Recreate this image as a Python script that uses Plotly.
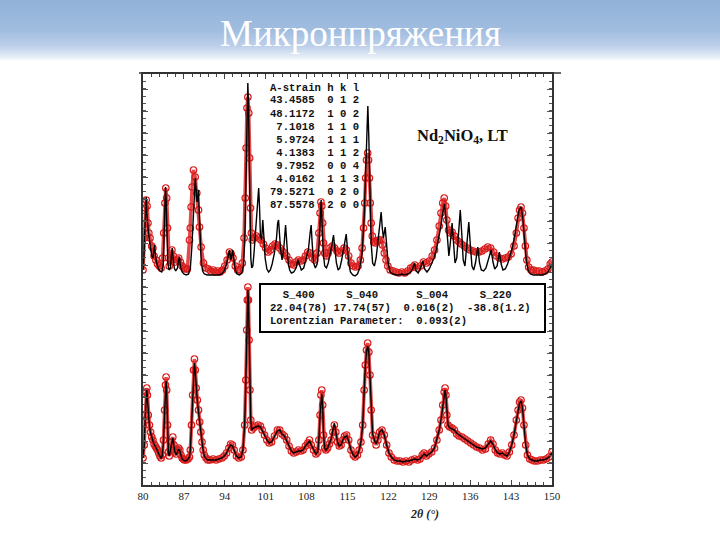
import plotly.graph_objects as go

# ---------------- data (2θ in degrees, intensity in arbitrary units) ----------------
obs_top = [
    (80.0, 8), (80.2, 40), (80.4, 70), (80.55, 78), (80.7, 72), (80.85, 55), (81.0, 45), (81.2, 40),
    (81.5, 32), (81.7, 30), (81.9, 22), (82.2, 18), (82.5, 14), (82.8, 12), (83.1, 10), (83.35, 20),
    (83.55, 45), (83.75, 75), (83.9, 90), (84.05, 80), (84.2, 50), (84.35, 20), (84.5, 12), (84.7, 18),
    (84.95, 28), (85.2, 22), (85.5, 16), (85.8, 18), (86.1, 20), (86.4, 16), (86.7, 12), (87.0, 10),
    (87.3, 9), (87.6, 9), (87.96, 38), (88.1, 50), (88.24, 71), (88.41, 91), (88.64, 108), (88.93, 101),
    (89.21, 85), (89.5, 68), (89.67, 51), (89.95, 31), (90.35, 15), (90.81, 10), (91.2, 9), (91.6, 7),
    (92.0, 8), (92.4, 6), (92.8, 7), (93.2, 6), (93.6, 8), (94.0, 12), (94.4, 18), (94.8, 26),
    (95.1, 24), (95.4, 20), (95.8, 12), (96.2, 8), (96.6, 8), (97.0, 15), (97.3, 40), (97.5, 80),
    (97.65, 130), (97.8, 170), (97.95, 181), (98.1, 165), (98.25, 120), (98.4, 70), (98.55, 45),
    (98.7, 38), (99.0, 40), (99.4, 42), (99.8, 40), (100.2, 38), (100.6, 34), (101.0, 30), (101.4, 26),
    (101.8, 28), (102.2, 32), (102.6, 34), (103.0, 33), (103.4, 30), (103.8, 27), (104.2, 25),
    (104.6, 22), (105.0, 18), (105.4, 14), (105.8, 13), (106.2, 16), (106.6, 18), (107.0, 17),
    (107.4, 18), (107.8, 22), (108.2, 26), (108.6, 25), (109.0, 20), (109.4, 18), (109.8, 25),
    (110.1, 45), (110.3, 65), (110.45, 76), (110.6, 72), (110.75, 55), (110.9, 35), (111.1, 25),
    (111.4, 22), (111.7, 25), (112.0, 30), (112.4, 32), (112.8, 30), (113.2, 27), (113.6, 25),
    (114.0, 27), (114.4, 30), (114.8, 28), (115.2, 22), (115.6, 15), (116.0, 12), (116.4, 11),
    (116.8, 12), (117.2, 18), (117.5, 30), (117.75, 50), (117.95, 75), (118.1, 100), (118.25, 118),
    (118.45, 125), (118.6, 118), (118.75, 100), (118.9, 75), (119.05, 55), (119.25, 42), (119.5, 36),
    (119.8, 35), (120.1, 37), (120.4, 38), (120.7, 38), (121.0, 33), (121.3, 25), (121.6, 18),
    (121.9, 12), (122.3, 8), (122.8, 7), (123.3, 6), (123.8, 5), (124.3, 6), (124.8, 5), (125.3, 7),
    (125.8, 10), (126.2, 11), (126.5, 13), (127.0, 10), (127.5, 12), (128.0, 16), (128.5, 15),
    (129.0, 17), (129.5, 22), (129.9, 28), (130.3, 38), (130.7, 52), (131.0, 65), (131.3, 75),
    (131.55, 80), (131.8, 72), (132.0, 58), (132.3, 48), (132.6, 45), (132.9, 46), (133.3, 42),
    (133.7, 38), (134.1, 36), (134.5, 34), (135.0, 32), (135.5, 30), (136.0, 28), (136.5, 27),
    (137.0, 26), (137.5, 26), (138.0, 27), (138.5, 29), (139.0, 31), (139.5, 30), (140.0, 26),
    (140.5, 22), (141.0, 20), (141.5, 19), (142.0, 20), (142.5, 21), (143.0, 24), (143.5, 32),
    (143.9, 45), (144.2, 60), (144.45, 68), (144.7, 71), (144.95, 65), (145.2, 50), (145.45, 32),
    (145.7, 18), (146.0, 11), (146.4, 8), (146.8, 8), (147.3, 7), (147.8, 7), (148.3, 6), (148.8, 7),
    (149.3, 9), (149.7, 14), (150.0, 16),
]

calc_top = [
    (80.0, 8), (80.15, 20), (80.3, 46), (80.45, 70), (80.55, 81), (80.65, 65), (80.8, 48), (80.95, 44),
    (81.1, 38), (81.3, 28), (81.5, 22), (81.7, 20), (81.85, 28), (81.97, 33), (82.1, 24), (82.3, 16),
    (82.6, 10), (82.9, 7), (83.2, 6), (83.45, 12), (83.6, 40), (83.75, 78), (83.85, 91), (83.95, 80),
    (84.1, 40), (84.25, 15), (84.45, 8), (84.7, 10), (84.85, 22), (85.0, 30), (85.15, 20), (85.35, 10),
    (85.6, 7), (85.9, 10), (86.1, 18), (86.25, 21), (86.4, 12), (86.7, 6), (87.0, 4), (87.4, 3),
    (87.8, 4), (88.1, 10), (88.35, 30), (88.6, 65), (88.8, 90), (88.95, 100), (89.1, 88), (89.25, 76),
    (89.4, 80), (89.5, 88), (89.6, 70), (89.75, 40), (89.95, 18), (90.2, 7), (90.5, 4), (91.0, 3),
    (91.5, 3), (92.0, 3), (92.5, 3), (93.0, 3), (93.5, 4), (93.9, 7), (94.3, 14), (94.55, 22),
    (94.8, 28), (95.05, 18), (95.2, 22), (95.37, 28), (95.55, 18), (95.8, 8), (96.1, 4), (96.5, 3),
    (96.9, 5), (97.2, 12), (97.45, 45), (97.65, 120), (97.8, 175), (97.94, 195), (98.05, 175),
    (98.15, 120), (98.3, 50), (98.45, 20), (98.6, 10), (98.8, 12), (99.0, 25), (99.3, 50), (99.55, 75),
    (99.8, 90), (99.95, 70), (100.1, 42), (100.3, 38), (100.5, 58), (100.7, 40), (100.9, 20),
    (101.2, 9), (101.5, 6), (101.8, 8), (102.1, 14), (102.5, 25), (102.85, 40), (103.05, 55),
    (103.2, 58), (103.35, 45), (103.55, 28), (103.8, 18), (104.1, 30), (104.4, 53), (104.6, 35),
    (104.85, 15), (105.1, 8), (105.4, 5), (105.8, 6), (106.2, 10), (106.5, 18), (106.8, 12),
    (107.1, 8), (107.5, 10), (107.9, 18), (108.3, 28), (108.6, 45), (108.78, 53), (108.95, 35),
    (109.2, 15), (109.5, 10), (109.8, 14), (110.1, 30), (110.3, 60), (110.49, 78), (110.65, 55),
    (110.85, 25), (111.1, 12), (111.4, 10), (111.7, 15), (112.0, 22), (112.3, 32), (112.6, 43),
    (112.85, 30), (113.1, 15), (113.4, 8), (113.7, 10), (114.0, 18), (114.3, 28), (114.55, 38),
    (114.78, 44), (114.95, 32), (115.2, 15), (115.5, 6), (115.9, 3), (116.3, 2), (116.7, 4),
    (117.1, 10), (117.5, 25), (117.85, 60), (118.1, 110), (118.3, 150), (118.48, 172), (118.65, 140),
    (118.85, 80), (119.05, 35), (119.3, 15), (119.6, 12), (119.9, 20), (120.2, 35), (120.5, 55),
    (120.76, 66), (120.95, 50), (121.15, 40), (121.45, 51), (121.7, 35), (121.95, 15), (122.3, 6),
    (122.8, 4), (123.3, 3), (123.8, 3), (124.3, 4), (124.8, 3), (125.3, 4), (125.8, 6), (126.2, 10),
    (126.46, 15), (126.75, 7), (127.1, 5), (127.5, 10), (127.88, 17), (128.2, 9), (128.6, 6),
    (129.0, 9), (129.4, 14), (129.8, 20), (130.2, 28), (130.6, 40), (131.0, 52), (131.3, 65),
    (131.6, 74), (131.85, 60), (132.1, 35), (132.35, 22), (132.6, 35), (132.9, 55), (133.15, 35),
    (133.4, 15), (133.7, 20), (134.0, 45), (134.3, 68), (134.55, 45), (134.8, 18), (135.1, 12),
    (135.4, 30), (135.76, 56), (136.0, 35), (136.3, 12), (136.6, 8), (136.9, 15), (137.3, 31),
    (137.6, 15), (137.9, 8), (138.3, 7), (138.7, 10), (139.1, 18), (139.58, 28), (139.9, 16),
    (140.2, 9), (140.6, 12), (141.0, 26), (141.3, 14), (141.6, 8), (142.0, 9), (142.4, 14),
    (142.8, 22), (143.2, 30), (143.6, 42), (144.0, 58), (144.35, 68), (144.71, 71), (145.0, 60),
    (145.3, 38), (145.6, 18), (145.9, 8), (146.3, 4), (146.8, 3), (147.3, 3), (147.8, 3), (148.3, 3),
    (148.8, 4), (149.3, 6), (149.7, 10), (150.0, 14),
]

obs_bot = [
    (80.0, 12), (80.2, 25), (80.4, 55), (80.55, 78), (80.65, 82), (80.75, 75), (80.9, 55), (81.1, 45),
    (81.3, 38), (81.5, 33), (81.7, 30), (81.9, 26), (82.1, 24), (82.3, 22), (82.5, 20), (82.7, 17),
    (82.9, 14), (83.1, 12), (83.3, 15), (83.5, 30), (83.7, 60), (83.85, 85), (83.95, 93), (84.05, 80),
    (84.2, 45), (84.35, 18), (84.5, 14), (84.7, 20), (84.9, 28), (85.1, 33), (85.3, 25), (85.5, 18),
    (85.7, 16), (85.9, 20), (86.1, 22), (86.3, 20), (86.5, 15), (86.7, 12), (86.9, 11), (87.1, 10),
    (87.4, 10), (87.7, 11), (87.95, 13), (88.1, 20), (88.3, 45), (88.5, 75), (88.65, 100), (88.8, 111),
    (88.95, 100), (89.1, 82), (89.3, 70), (89.5, 60), (89.7, 48), (89.9, 38), (90.1, 28), (90.3, 20),
    (90.5, 15), (90.8, 12), (91.1, 10), (91.5, 10), (92.0, 11), (92.5, 10), (93.0, 11), (93.5, 12),
    (93.9, 14), (94.3, 17), (94.7, 22), (95.0, 26), (95.3, 25), (95.6, 20), (96.0, 14), (96.4, 12),
    (96.8, 13), (97.1, 20), (97.4, 45), (97.6, 90), (97.75, 140), (97.85, 170), (97.95, 183),
    (98.05, 170), (98.15, 130), (98.3, 80), (98.45, 50), (98.6, 40), (98.9, 42), (99.3, 44),
    (99.7, 45), (100.1, 44), (100.4, 40), (100.8, 35), (101.2, 30), (101.6, 27), (102.0, 28),
    (102.5, 34), (103.0, 40), (103.4, 40), (103.8, 36), (104.2, 34), (104.6, 30), (105.0, 24),
    (105.4, 19), (105.8, 17), (106.2, 18), (106.6, 20), (107.0, 19), (107.4, 20), (107.8, 24),
    (108.2, 27), (108.5, 30), (108.8, 25), (109.2, 20), (109.6, 16), (109.9, 18), (110.1, 30),
    (110.3, 55), (110.45, 75), (110.6, 80), (110.75, 65), (110.9, 35), (111.1, 22), (111.3, 20),
    (111.6, 22), (111.9, 26), (112.2, 30), (112.5, 38), (112.75, 45), (113.0, 38), (113.3, 28),
    (113.6, 24), (113.9, 25), (114.2, 30), (114.5, 34), (114.85, 35), (115.2, 30), (115.6, 20),
    (116.0, 15), (116.3, 13), (116.7, 15), (117.0, 20), (117.3, 28), (117.6, 45), (117.85, 80),
    (118.05, 105), (118.25, 120), (118.45, 127), (118.65, 118), (118.85, 95), (119.05, 60),
    (119.3, 35), (119.6, 30), (119.9, 25), (120.2, 30), (120.5, 38), (120.9, 40), (121.3, 35),
    (121.7, 25), (122.1, 17), (122.5, 13), (123.0, 10), (123.5, 9), (124.0, 9), (124.5, 8),
    (125.0, 9), (125.5, 8), (126.0, 10), (126.5, 11), (127.0, 10), (127.4, 11), (127.8, 15),
    (128.1, 17), (128.5, 14), (128.9, 16), (129.4, 18), (129.9, 22), (130.3, 30), (130.7, 40),
    (131.0, 50), (131.3, 65), (131.55, 78), (131.7, 82), (131.85, 75), (132.0, 55), (132.2, 45),
    (132.5, 43), (132.9, 42), (133.3, 40), (133.7, 36), (134.1, 34), (134.6, 33), (135.1, 31),
    (135.6, 29), (136.1, 27), (136.6, 25), (137.1, 23), (137.6, 22), (138.1, 20), (138.6, 21),
    (139.1, 26), (139.5, 30), (139.9, 26), (140.3, 20), (140.7, 17), (141.1, 16), (141.5, 17),
    (141.9, 15), (142.3, 14), (142.7, 18), (143.1, 25), (143.5, 35), (143.9, 50), (144.2, 60),
    (144.45, 68), (144.7, 70), (144.95, 62), (145.2, 45), (145.5, 25), (145.8, 15), (146.2, 11),
    (146.6, 10), (147.0, 9), (147.5, 9), (148.0, 10), (148.5, 10), (149.0, 11), (149.5, 13), (150.0, 18),
]

calc_bot = [
    (80.0, 12), (80.2, 24), (80.4, 55), (80.55, 76), (80.65, 80), (80.75, 72), (80.9, 55), (81.1, 44),
    (81.3, 37), (81.5, 32), (81.7, 29), (81.9, 26), (82.1, 24), (82.3, 22), (82.5, 19), (82.7, 16),
    (82.9, 13), (83.1, 12), (83.3, 14), (83.5, 28), (83.7, 58), (83.85, 82), (83.95, 89), (84.05, 78),
    (84.2, 42), (84.35, 17), (84.5, 14), (84.7, 20), (84.9, 28), (85.1, 32), (85.3, 24), (85.5, 17),
    (85.7, 15), (85.9, 19), (86.1, 21), (86.3, 19), (86.5, 14), (86.7, 11), (86.9, 10), (87.2, 9),
    (87.6, 10), (87.95, 13), (88.1, 20), (88.3, 45), (88.5, 75), (88.65, 98), (88.8, 107),
    (88.95, 98), (89.1, 82), (89.3, 69), (89.5, 58), (89.7, 47), (89.9, 37), (90.1, 27), (90.3, 19),
    (90.5, 14), (90.8, 11), (91.1, 10), (91.5, 10), (92.0, 10), (92.5, 10), (93.0, 11), (93.5, 12),
    (93.9, 14), (94.3, 17), (94.7, 22), (95.0, 25), (95.3, 24), (95.6, 19), (96.0, 14), (96.4, 12),
    (96.8, 13), (97.1, 20), (97.4, 45), (97.6, 90), (97.75, 140), (97.85, 170), (97.95, 180),
    (98.05, 168), (98.15, 128), (98.3, 80), (98.45, 50), (98.6, 40), (98.9, 42), (99.3, 43),
    (99.7, 44), (100.1, 43), (100.4, 40), (100.8, 35), (101.2, 30), (101.6, 27), (102.0, 28),
    (102.5, 34), (103.0, 39), (103.4, 40), (103.8, 36), (104.2, 34), (104.6, 29), (105.0, 24),
    (105.4, 19), (105.8, 17), (106.2, 18), (106.6, 19), (107.0, 19), (107.4, 20), (107.8, 24),
    (108.2, 27), (108.5, 29), (108.8, 25), (109.2, 20), (109.6, 16), (109.9, 18), (110.1, 30),
    (110.3, 55), (110.45, 72), (110.6, 76), (110.75, 63), (110.9, 35), (111.1, 22), (111.3, 20),
    (111.6, 22), (111.9, 26), (112.2, 31), (112.5, 40), (112.75, 47), (113.0, 38), (113.3, 28),
    (113.6, 24), (113.9, 25), (114.2, 30), (114.5, 33), (114.85, 34), (115.2, 29), (115.6, 20),
    (116.0, 15), (116.3, 13), (116.7, 15), (117.0, 20), (117.3, 28), (117.6, 45), (117.85, 80),
    (118.05, 104), (118.25, 118), (118.45, 124), (118.65, 117), (118.85, 94), (119.05, 60),
    (119.3, 36), (119.6, 30), (119.9, 26), (120.2, 31), (120.5, 38), (120.9, 40), (121.3, 35),
    (121.7, 25), (122.1, 17), (122.5, 13), (123.0, 10), (123.5, 9), (124.0, 9), (124.5, 8),
    (125.0, 9), (125.5, 9), (126.0, 10), (126.5, 11), (127.0, 10), (127.4, 11), (127.8, 14),
    (128.1, 16), (128.5, 14), (128.9, 16), (129.4, 18), (129.9, 22), (130.3, 30), (130.7, 40),
    (131.0, 50), (131.3, 64), (131.55, 76), (131.7, 80), (131.85, 74), (132.0, 56), (132.2, 45),
    (132.5, 42), (132.9, 41), (133.3, 40), (133.7, 37), (134.1, 35), (134.6, 33), (135.1, 31),
    (135.6, 29), (136.1, 27), (136.6, 25), (137.1, 23), (137.6, 22), (138.1, 21), (138.6, 22),
    (139.1, 26), (139.5, 29), (139.9, 26), (140.3, 20), (140.7, 17), (141.1, 16), (141.5, 17),
    (141.9, 15), (142.3, 14), (142.7, 18), (143.1, 25), (143.5, 35), (143.9, 49), (144.2, 60),
    (144.45, 67), (144.7, 69), (144.95, 62), (145.2, 45), (145.5, 25), (145.8, 15), (146.2, 11),
    (146.6, 10), (147.0, 9), (147.5, 9), (148.0, 10), (148.5, 10), (149.0, 11), (149.5, 13), (150.0, 17),
]

x_tick_vals = [80, 87, 94, 101, 108, 115, 122, 129, 136, 143, 150]
x_tick_text = ["80", "87", "94", "101", "108", "115", "122", "129", "136", "143", "150"]

title_text = "Микронпряжения"
compound_label = "Nd<sub>2</sub>NiO<sub>4</sub>, LT"
x_axis_title = "<b><i>2θ (°)</i></b>"

strain_rows = [
    "A-strain h k l",
    "43.4585  0 1 2",
    "48.1172  1 0 2",
    " 7.1018  1 1 0",
    " 5.9724  1 1 1",
    " 4.1383  1 1 2",
    " 9.7952  0 0 4",
    " 4.0162  1 1 3",
    "79.5271  0 2 0",
    "87.5578  2 0 0",
]
param_rows = [
    "  S_400     S_040      S_004     S_220",
    "22.04(78) 17.74(57)  0.016(2)  -38.8(1.2)",
    "Lorentzian Parameter:  0.093(2)",
]

# ---------------- figure ----------------
W, H = 720, 540
L, R, T, B = 143, 552, 74, 485  # plot area in pixels


def px(x):
    return (x - L) / (R - L)


def py(y):
    return (B - y) / (B - T)


def unzip(pairs):
    return [p[0] for p in pairs], [p[1] for p in pairs]


RED = "#d81c1c"
fig = go.Figure()


def add_obs(pairs, yaxis):
    x, y = unzip(pairs)
    fig.add_trace(go.Scatter(x=x, y=y, yaxis=yaxis, mode="lines",
                             line=dict(color="rgba(225,40,40,0.85)", width=3.5)))
    fig.add_trace(go.Scatter(x=x, y=y, yaxis=yaxis, mode="markers",
                             marker=dict(symbol="circle-open", size=6.5, color=RED,
                                         line=dict(width=1.2, color=RED))))


def add_calc(pairs, yaxis):
    x, y = unzip(pairs)
    fig.add_trace(go.Scatter(x=x, y=y, yaxis=yaxis, mode="lines", line=dict(color="black", width=1.4)))


add_obs(obs_top, "y2")
add_calc(calc_top, "y2")
add_obs(obs_bot, "y")
add_calc(calc_bot, "y")

shapes = []
# title gradient bar
stops = [(0, (146, 178, 216)), (30, (160, 189, 224)), (46, (190, 208, 234)), (56, (228, 236, 246)), (61, (255, 255, 255))]
for i in range(61):
    for j in range(len(stops) - 1):
        if stops[j][0] <= i <= stops[j + 1][0]:
            a, ca = stops[j]
            b, cb = stops[j + 1]
            t = (i - a) / (b - a)
            c = tuple(int(round(ca[k] + (cb[k] - ca[k]) * t)) for k in range(3))
            break
    shapes.append(dict(type="rect", xref="paper", yref="paper", x0=px(0), x1=px(W), y0=py(i + 1), y1=py(i),
                       fillcolor="rgb(%d,%d,%d)" % c, line=dict(width=0), layer="below"))
# top rule line
shapes.append(dict(type="line", xref="paper", yref="paper", x0=px(139), x1=px(561), y0=py(73), y1=py(73),
                   line=dict(color="#333333", width=1.5)))
# parameter box
shapes.append(dict(type="rect", xref="paper", yref="paper", x0=px(260), x1=px(545), y0=py(332), y1=py(284),
                   fillcolor="white", line=dict(color="black", width=2)))

annotations = []
annotations.append(dict(text=title_text, xref="paper", yref="paper", x=px(360), y=py(33),
                        xanchor="center", yanchor="middle", showarrow=False,
                        font=dict(family="Liberation Serif", size=37, color="white")))
mono = dict(family="Liberation Mono", size=10.6, color="#111111")
for i, row in enumerate(strain_rows):
    annotations.append(dict(text="<b>" + row.replace(" ", "\u00a0") + "</b>", xref="paper", yref="paper",
                            x=px(268), y=py(87.5 + 13 * i), xanchor="left", yanchor="middle",
                            showarrow=False, font=mono))
for i, row in enumerate(param_rows):
    annotations.append(dict(text="<b>" + row.replace(" ", "\u00a0") + "</b>", xref="paper", yref="paper",
                            x=px(268), y=py(295 + 12.8 * i), xanchor="left", yanchor="middle",
                            showarrow=False, font=mono))
annotations.append(dict(text="<b>" + compound_label + "</b>", xref="paper", yref="paper", x=px(415), y=py(136),
                        xanchor="left", yanchor="middle", showarrow=False,
                        font=dict(family="Liberation Serif", size=16.5, color="#111111")))
annotations.append(dict(text=x_axis_title, xref="paper", yref="paper", x=px(424), y=py(514),
                        xanchor="center", yanchor="middle", showarrow=False,
                        font=dict(family="Liberation Serif", size=12, color="#222222")))

fig.update_layout(
    width=W, height=H,
    margin=dict(l=L, r=W - R, t=T, b=H - B, pad=0),
    paper_bgcolor="white", plot_bgcolor="white",
    showlegend=False,
    shapes=shapes, annotations=annotations,
    xaxis=dict(range=[80, 150], tickmode="array", tickvals=x_tick_vals, ticktext=x_tick_text,
               ticks="inside", ticklen=5, tickwidth=1, tickcolor="#444",
               minor=dict(tick0=80, dtick=1.4, ticks="inside", ticklen=3, tickcolor="#444"),
               showline=True, linecolor="#333", linewidth=1.5, mirror="ticks",
               showgrid=False, zeroline=False,
               tickfont=dict(family="Liberation Serif", size=11, color="#222")),
    yaxis=dict(range=[-15, 396], tickmode="linear", tick0=-15, dtick=22,
               ticks="inside", ticklen=5, tickwidth=1, tickcolor="#555",
               minor=dict(dtick=22 / 3, ticks="inside", ticklen=3, tickcolor="#555"),
               showticklabels=False, showline=True, linecolor="#333", linewidth=1.5, mirror="ticks",
               showgrid=False, zeroline=False),
    yaxis2=dict(range=[-207, 204], overlaying="y", visible=False),
)

fig.write_html("out.html", config={"displayModeBar": False},
               post_script="document.body.style.margin='0px';document.body.style.overflow='hidden';")
